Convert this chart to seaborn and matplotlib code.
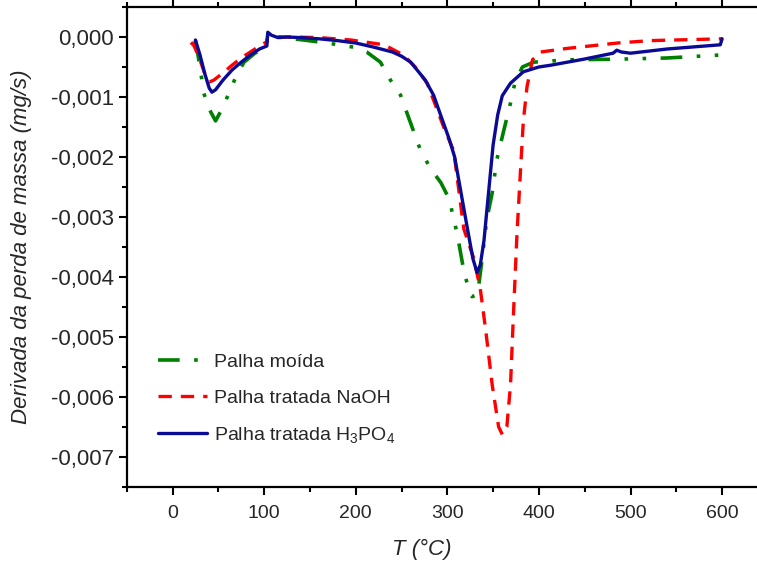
import numpy as np
import pandas as pd
import matplotlib
matplotlib.use("Agg")
import matplotlib.pyplot as plt
from matplotlib.ticker import MultipleLocator, FuncFormatter
import seaborn as sns

# temperatura (C) e derivada da perda de massa (mg/s)
t_moida = [25, 30, 34, 40, 47, 55, 64, 69, 78, 90, 102, 104, 115, 143, 169, 198, 212,
           227, 238, 249, 256, 271, 282, 293, 302, 311, 318, 325, 327, 333, 338, 343,
           349, 354, 361, 369, 374, 382, 394, 431, 485, 540, 598, 600]
d_moida = [-0.00005, -0.0005, -0.00093, -0.0012, -0.0014, -0.00117, -0.00085, -0.00067,
           -0.00042, -0.00027, -0.00017, 0.00003, 0.0, -0.00005, -0.0001, -0.00017,
           -0.00025, -0.00042, -0.00072, -0.00097, -0.00127, -0.0019, -0.0022, -0.00243,
           -0.0027, -0.0033, -0.0039, -0.0043, -0.00433, -0.0043, -0.0037, -0.00305,
           -0.0026, -0.00205, -0.0016, -0.0011, -0.00075, -0.0005, -0.00042, -0.00038,
           -0.00037, -0.00035, -0.0003, -0.0002]

t_naoh = [20, 22, 28, 35, 40, 45, 55, 65, 75, 85, 95, 103, 104, 110, 130, 160, 195, 231,
          252, 265, 278, 296, 307, 318, 329, 336, 342, 349, 356, 360, 365, 369, 372, 376,
          380, 383, 387, 393, 402, 431, 486, 522, 600]
d_naoh = [-0.00013, -0.0001, -0.0003, -0.0006, -0.00075, -0.00072, -0.0006, -0.00047,
          -0.00035, -0.00025, -0.00015, -0.00008, 0.00005, 0.0, 0.0, -0.00001, -0.00005,
          -0.00013, -0.0003, -0.0005, -0.00077, -0.0015, -0.0019, -0.0032, -0.0037,
          -0.0042, -0.0049, -0.0058, -0.0065, -0.00663, -0.0065, -0.0058, -0.0047,
          -0.0033, -0.0022, -0.0014, -0.00083, -0.00038, -0.00025, -0.00019, -0.0001,
          -0.00006, -0.00003]

t_h3po4 = [25, 30, 35, 40, 43, 47, 55, 65, 75, 85, 95, 103, 104, 108, 115, 125, 140, 160,
           180, 200, 220, 240, 250, 260, 267, 276, 285, 295, 302, 308, 315, 322, 328,
           332.5, 336, 340, 345, 350, 355, 360, 369, 383, 400, 413, 449, 481, 485, 490,
           500, 540, 598, 600]
d_h3po4 = [-0.00005, -0.0003, -0.0006, -0.00085, -0.00092, -0.00088, -0.00072, -0.00055,
           -0.00042, -0.0003, -0.0002, -0.00015, 0.00008, 0.00003, -0.00001, 0.0,
           -0.00001, -0.00003, -0.00006, -0.0001, -0.00017, -0.00025, -0.00032, -0.00042,
           -0.00055, -0.00072, -0.00097, -0.0014, -0.0017, -0.002, -0.0026, -0.0032,
           -0.0037, -0.00393, -0.0038, -0.0034, -0.0026, -0.0018, -0.0013, -0.00098,
           -0.00077, -0.00058, -0.0005, -0.00047, -0.00037, -0.00027, -0.00022, -0.00025,
           -0.00027, -0.0002, -0.00013, -0.00003]

sns.set_style("ticks")
plt.rcParams['font.family'] = ['Liberation Sans', 'DejaVu Sans']
plt.rcParams['mathtext.fontset'] = 'custom'
plt.rcParams['mathtext.rm'] = 'Liberation Sans'
plt.rcParams['mathtext.it'] = 'Liberation Sans:italic'
plt.rcParams['mathtext.default'] = 'regular'

fig = plt.figure(figsize=(7.57, 5.62), dpi=100)
ax = fig.add_axes([0.1674, 0.134, 0.847, 0.8535])

sns.lineplot(x=t_moida, y=d_moida, ax=ax, sort=False, estimator=None, color='#008000',
             lw=2.6, linestyle=(0, (6, 4, 1, 4, 1, 4)), label='Palha moída')
sns.lineplot(x=t_naoh, y=d_naoh, ax=ax, sort=False, estimator=None, color='#ff0000',
             lw=2.4, linestyle=(0, (4, 2.7)), label='Palha tratada NaOH')
sns.lineplot(x=t_h3po4, y=d_h3po4, ax=ax, sort=False, estimator=None, color='#0a0a96',
             lw=2.4, linestyle='-', label='Palha tratada H$_3$PO$_4$')

ax.set_xlim(-50, 650)
ax.set_ylim(-0.0075, 0.0005)
ax.xaxis.set_major_locator(MultipleLocator(100))
ax.xaxis.set_minor_locator(MultipleLocator(50))
ax.yaxis.set_major_locator(MultipleLocator(0.001))
ax.yaxis.set_minor_locator(MultipleLocator(0.0005))
ax.yaxis.set_major_formatter(FuncFormatter(lambda v, p: f"{v:.3f}".replace('.', ',').replace('-0,000', '0,000')))

for s in ax.spines.values():
    s.set_linewidth(1.6)
    s.set_color('black')
ax.tick_params(axis='both', which='major', direction='out', length=6, width=1.5, color='black')
ax.tick_params(axis='both', which='minor', direction='out', length=3.5, width=1.5, color='black')
ax.tick_params(axis='x', which='major', labelsize=14, pad=7)
ax.tick_params(axis='y', which='major', labelsize=16, pad=3)
ax.tick_params(axis='x', which='both', top=True)

ax.set_xlabel('T (°C)', fontsize=16, fontstyle='italic')
ax.set_ylabel('Derivada da perda de massa (mg/s)', fontsize=16, fontstyle='italic')
ax.xaxis.set_label_coords(0.46, -0.108)
ax.yaxis.set_label_coords(-0.148, 0.5)

leg = ax.legend(loc='lower left', bbox_to_anchor=(0.022, 0.05), frameon=False,
                fontsize=14, handlelength=2.5, handletextpad=0.35, labelspacing=0.95)

fig.savefig('out.png', dpi=100)
